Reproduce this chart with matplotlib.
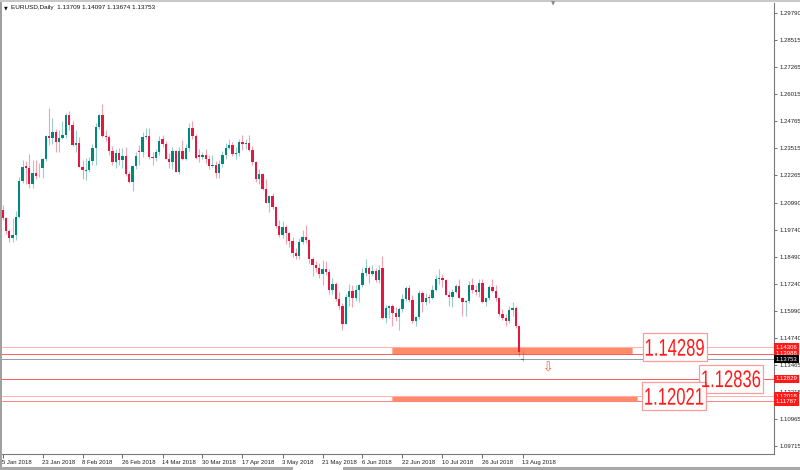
import matplotlib.pyplot as plt
from matplotlib.transforms import blended_transform_factory, Affine2D, IdentityTransform
from matplotlib.patches import Rectangle, PathPatch
from matplotlib.textpath import TextPath
from matplotlib.font_manager import FontProperties

symbol = 'EURUSD,Daily'
last_ohlc = '1.13709 1.14097 1.13674 1.13753'

# daily bars 5 Jan 2018 .. 13 Aug 2018
opens = [1.2067, 1.2030, 1.1967, 1.1937, 1.1950, 1.2035, 1.2198, 1.2267, 1.2262, 1.2187,
         1.2237, 1.2262, 1.2258, 1.2300, 1.2410, 1.2398, 1.2427, 1.2382, 1.2399, 1.2414,
         1.2507, 1.2459, 1.2368, 1.2376, 1.2265, 1.2247, 1.2250, 1.2292, 1.2352, 1.2448,
         1.2505, 1.2409, 1.2405, 1.2337, 1.2287, 1.2331, 1.2295, 1.2317, 1.2233, 1.2193,
         1.2269, 1.2340, 1.2335, 1.2404, 1.2410, 1.2310, 1.2306, 1.2336, 1.2395, 1.2369,
         1.2303, 1.2287, 1.2337, 1.2240, 1.2340, 1.2302, 1.2352, 1.2446, 1.2406, 1.2318,
         1.2313, 1.2322, 1.2302, 1.2270, 1.2276, 1.2239, 1.2280, 1.2320, 1.2354, 1.2368,
         1.2324, 1.2331, 1.2380, 1.2372, 1.2375, 1.2344, 1.2288, 1.2211, 1.2232, 1.2165,
         1.2100, 1.2130, 1.2079, 1.1991, 1.1950, 1.1988, 1.1960, 1.1923, 1.1866, 1.1851,
         1.1916, 1.1941, 1.1925, 1.1837, 1.1810, 1.1795, 1.1769, 1.1791, 1.1779, 1.1696,
         1.1722, 1.1652, 1.1623, 1.1538, 1.1664, 1.1692, 1.1658, 1.1695, 1.1716, 1.1775,
         1.1798, 1.1769, 1.1782, 1.1740, 1.1795, 1.1567, 1.1610, 1.1623, 1.1587, 1.1570,
         1.1606, 1.1655, 1.1702, 1.1648, 1.1553, 1.1568, 1.1683, 1.1640, 1.1660, 1.1657,
         1.1693, 1.1748, 1.1751, 1.1742, 1.1672, 1.1664, 1.1685, 1.1712, 1.1660, 1.1641,
         1.1642, 1.1720, 1.1693, 1.1685, 1.1726, 1.1640, 1.1657, 1.1707, 1.1690, 1.1659,
         1.1583, 1.1567, 1.1553, 1.1601, 1.1611, 1.1526, 1.13709]
highs = [1.2090, 1.2034, 1.1976, 1.2027, 1.2059, 1.2219, 1.2296, 1.2292, 1.2323, 1.2297,
         1.2296, 1.2284, 1.2306, 1.2415, 1.2537, 1.2493, 1.2440, 1.2434, 1.2477, 1.2516,
         1.2522, 1.2479, 1.2436, 1.2405, 1.2297, 1.2305, 1.2313, 1.2370, 1.2470, 1.2509,
         1.2555, 1.2435, 1.2415, 1.2361, 1.2349, 1.2352, 1.2353, 1.2356, 1.2246, 1.2273,
         1.2336, 1.2368, 1.2425, 1.2446, 1.2446, 1.2336, 1.2347, 1.2408, 1.2413, 1.2384,
         1.2330, 1.2355, 1.2345, 1.2355, 1.2388, 1.2369, 1.2468, 1.2476, 1.2416, 1.2347,
         1.2336, 1.2347, 1.2320, 1.2318, 1.2294, 1.2295, 1.2337, 1.2377, 1.2396, 1.2380,
         1.2355, 1.2396, 1.2414, 1.2394, 1.2414, 1.2360, 1.2294, 1.2254, 1.2237, 1.2207,
         1.2134, 1.2142, 1.2083, 1.2018, 1.2015, 1.1995, 1.1965, 1.1940, 1.1890, 1.1935,
         1.1972, 1.1996, 1.1932, 1.1849, 1.1830, 1.1818, 1.1836, 1.1830, 1.1793, 1.1750,
         1.1731, 1.1686, 1.1637, 1.1675, 1.1725, 1.1716, 1.1720, 1.1724, 1.1796, 1.1840,
         1.1806, 1.1810, 1.1795, 1.1810, 1.1852, 1.1626, 1.1625, 1.1630, 1.1617, 1.1618,
         1.1675, 1.1715, 1.1717, 1.1673, 1.1575, 1.1696, 1.1690, 1.1681, 1.1675, 1.1720,
         1.1765, 1.1791, 1.1768, 1.1747, 1.1692, 1.1698, 1.1721, 1.1745, 1.1664, 1.1650,
         1.1737, 1.1750, 1.1716, 1.1745, 1.1748, 1.1658, 1.1720, 1.1746, 1.1716, 1.1663,
         1.1605, 1.1584, 1.1620, 1.1641, 1.1619, 1.1530, 1.14097]
lows = [1.2020, 1.1954, 1.1916, 1.1915, 1.1926, 1.2030, 1.2192, 1.2185, 1.2166, 1.2167,
        1.2208, 1.2216, 1.2214, 1.2292, 1.2365, 1.2373, 1.2336, 1.2335, 1.2392, 1.2401,
        1.2436, 1.2360, 1.2335, 1.2264, 1.2207, 1.2206, 1.2243, 1.2274, 1.2275, 1.2441,
        1.2404, 1.2385, 1.2319, 1.2274, 1.2260, 1.2274, 1.2261, 1.2225, 1.2189, 1.2155,
        1.2254, 1.2274, 1.2310, 1.2396, 1.2300, 1.2272, 1.2294, 1.2322, 1.2359, 1.2300,
        1.2259, 1.2255, 1.2240, 1.2232, 1.2295, 1.2295, 1.2340, 1.2396, 1.2300, 1.2289,
        1.2300, 1.2284, 1.2255, 1.2265, 1.2215, 1.2214, 1.2263, 1.2303, 1.2347, 1.2317,
        1.2300, 1.2316, 1.2345, 1.2347, 1.2337, 1.2274, 1.2197, 1.2184, 1.2160, 1.2096,
        1.2055, 1.2070, 1.1982, 1.1940, 1.1938, 1.1910, 1.1896, 1.1850, 1.1838, 1.1840,
        1.1907, 1.1911, 1.1821, 1.1762, 1.1776, 1.1750, 1.1716, 1.1764, 1.1676, 1.1677,
        1.1645, 1.1605, 1.1510, 1.1537, 1.1620, 1.1618, 1.1645, 1.1640, 1.1708, 1.1758,
        1.1726, 1.1760, 1.1731, 1.1728, 1.1562, 1.1541, 1.1564, 1.1530, 1.1550, 1.1508,
        1.1591, 1.1642, 1.1640, 1.1541, 1.1527, 1.1560, 1.1591, 1.1624, 1.1637, 1.1653,
        1.1688, 1.1721, 1.1708, 1.1670, 1.1620, 1.1615, 1.1683, 1.1658, 1.1575, 1.1575,
        1.1636, 1.1680, 1.1672, 1.1664, 1.1636, 1.1620, 1.1650, 1.1684, 1.1645, 1.1575,
        1.1554, 1.1529, 1.1540, 1.1574, 1.1521, 1.1389, 1.13674]
closes = [1.2029, 1.1967, 1.1937, 1.1950, 1.2035, 1.2198, 1.2264, 1.2262, 1.2187, 1.2237,
          1.2224, 1.2258, 1.2300, 1.2408, 1.2398, 1.2427, 1.2382, 1.2399, 1.2414, 1.2507,
          1.2459, 1.2368, 1.2376, 1.2265, 1.2250, 1.2250, 1.2292, 1.2352, 1.2448, 1.2505,
          1.2409, 1.2405, 1.2337, 1.2287, 1.2331, 1.2295, 1.2317, 1.2233, 1.2193, 1.2269,
          1.2317, 1.2335, 1.2404, 1.2410, 1.2310, 1.2306, 1.2336, 1.2387, 1.2369, 1.2303,
          1.2287, 1.2337, 1.2240, 1.2340, 1.2302, 1.2352, 1.2446, 1.2406, 1.2307, 1.2313,
          1.2322, 1.2302, 1.2270, 1.2276, 1.2239, 1.2280, 1.2320, 1.2354, 1.2368, 1.2324,
          1.2331, 1.2380, 1.2372, 1.2375, 1.2344, 1.2288, 1.2211, 1.2232, 1.2165, 1.2100,
          1.2130, 1.2079, 1.1991, 1.1950, 1.1988, 1.1960, 1.1923, 1.1866, 1.1851, 1.1916,
          1.1941, 1.1925, 1.1837, 1.1810, 1.1795, 1.1769, 1.1791, 1.1779, 1.1696, 1.1722,
          1.1652, 1.1623, 1.1538, 1.1664, 1.1692, 1.1658, 1.1695, 1.1716, 1.1775, 1.1798,
          1.1769, 1.1782, 1.1740, 1.1788, 1.1567, 1.1610, 1.1623, 1.1587, 1.1570, 1.1606,
          1.1655, 1.1702, 1.1648, 1.1553, 1.1568, 1.1683, 1.1640, 1.1656, 1.1657, 1.1693,
          1.1748, 1.1751, 1.1742, 1.1672, 1.1664, 1.1685, 1.1712, 1.1660, 1.1641, 1.1642,
          1.1720, 1.1693, 1.1685, 1.1726, 1.1640, 1.1657, 1.1707, 1.1690, 1.1659, 1.1583,
          1.1567, 1.1553, 1.1601, 1.1611, 1.1526, 1.1410, 1.13753]

date_labels = ['5 Jan 2018', '23 Jan 2018', '8 Feb 2018', '26 Feb 2018', '14 Mar 2018',
               '30 Mar 2018', '17 Apr 2018', '3 May 2018', '21 May 2018', '6 Jun 2018',
               '22 Jun 2018', '10 Jul 2018', '26 Jul 2018', '13 Aug 2018']
bars_per_label = 12

price_ticks = [1.29790, 1.28515, 1.27265, 1.26015, 1.24765, 1.23515, 1.22265, 1.20990,
               1.19740, 1.18490, 1.17240, 1.15990, 1.14740, 1.13465, 1.12215, 1.10965, 1.09715]

upper_zone = [1.14306, 1.13988]
lower_zone = [1.12018, 1.11787]
mid_level = 1.12829
current_price = 1.13753
callout_prices = [1.14289, 1.12836, 1.12021]

bull = '#00877e'
bear = '#e3173f'
small_font = ['Liberation Sans', 'DejaVu Sans']

fig = plt.figure(figsize=(8, 4.7), dpi=100)
fig.patch.set_facecolor('white')
ax = fig.add_axes([2/800, 16/470, 772/800, 451/470])
ax.set_xlim(-0.15, 231.45)
ax.set_ylim(1.09353, 1.30242)

# candles
for i in range(len(closes)):
    o, h, l, c = opens[i], highs[i], lows[i], closes[i]
    col = bull if c >= o else bear
    ax.vlines(i, l, h, color=col, alpha=0.4, lw=0.8, zorder=2)
    ax.bar(i, max(abs(c - o), 0.0004), bottom=min(o, c), width=0.62,
           color=col, lw=0, zorder=3)

# zones and levels
ax.add_patch(Rectangle((116.9, upper_zone[1]), 72.0, upper_zone[0] - upper_zone[1],
                       fc='#ff8a66', ec='#ffb59e', lw=0.8, zorder=1))
ax.add_patch(Rectangle((116.9, lower_zone[1]), 73.5, lower_zone[0] - lower_zone[1],
                       fc='#ff8a66', ec='#ffb59e', lw=0.8, zorder=1))
ax.axhline(upper_zone[0], color='#ffb0b0', lw=0.7, zorder=1)
ax.axhline(upper_zone[1], color='#ff5a5a', lw=0.7, zorder=1)
ax.axhline(current_price, color='#8e9ca8', lw=0.7, zorder=1)
ax.axhline(mid_level, color='#ff5a5a', lw=0.7, zorder=1)
ax.axhline(lower_zone[0], color='#ffb0b0', lw=0.7, zorder=1)
ax.axhline(lower_zone[1], color='#ff8080', lw=0.7, zorder=1)
ax.text(163.7, 1.1334, '\u21e9', fontsize=9, family='DejaVu Sans', color='#ff5a36',
        ha='center', va='center', zorder=6)


# big narrow price callouts (tall condensed digits, like the terminal's labels)
def callout(xd, price):
    s = '%.5f' % price
    tp = TextPath((0, 0), s, size=1, prop=FontProperties(family='Liberation Sans'))
    ext = tp.get_extents()
    cx, cy = ax.transData.transform((xd, price))
    tr = (Affine2D().translate(-ext.x0 - ext.width / 2, -ext.y0 - ext.height / 2)
          .scale(58 / ext.width, 17 / ext.height).translate(cx, cy))
    fig.add_artist(Rectangle((cx - 32, cy - 14), 64, 28, transform=IdentityTransform(),
                             fc='white', ec='#ff9a9a', lw=0.9, zorder=5))
    fig.add_artist(PathPatch(tp, transform=tr, fc='#ff1a1a', lw=0, zorder=6))


callout(201.7, callout_prices[0])
callout(218.6, callout_prices[1])
callout(201.5, callout_prices[2])

# axes styling
for s in ['top', 'left']:
    ax.spines[s].set_visible(False)
ax.spines['right'].set_color('#7a7a7a')
ax.spines['bottom'].set_color('#7a7a7a')
ax.yaxis.tick_right()
ax.set_yticks(price_ticks)
ax.set_yticklabels(['%.5f' % p for p in price_ticks], family=small_font)
ax.tick_params(axis='y', length=2.5, width=0.6, pad=1.2, labelsize=4.3,
               color='#555555', labelcolor='#222222')
ax.set_xticks(range(0, len(closes), bars_per_label))
ax.set_xticklabels(date_labels, family=small_font, ha='left')
ax.tick_params(axis='x', length=3, width=0.6, pad=1.0, labelsize=4.3,
               color='#555555', labelcolor='#222222')

# right-axis price tags
tr = blended_transform_factory(ax.transAxes, ax.transData)
tags = [(upper_zone[0], '#ff1a1a'), (upper_zone[1], '#ff1a1a'), (current_price, '#000000'),
        (mid_level, '#ff1a1a'), (lower_zone[0], '#ff1a1a'), (lower_zone[1], '#ff1a1a')]
for p, fc in tags:
    ax.text(1.0 + 1.5/772, p, '%.5f' % p, transform=tr, fontsize=4.3, family=small_font,
            color='white', ha='left', va='center', clip_on=False, zorder=8,
            bbox=dict(boxstyle='square,pad=0.3', fc=fc, ec=fc, lw=0))

# header and window chrome
fig.text(11/800, 1 - 8/470, symbol + '  ' + last_ohlc, fontsize=4.6, family=small_font,
         color='#111111', va='center')
fig.text(4/800, 1 - 8/470, '\u25bc', fontsize=3.5, family='DejaVu Sans', color='#111111',
         va='center')
fig.text(553/800, 1 - 4/470, '\u25bc', fontsize=4, family='DejaVu Sans', color='#8a8a8a',
         ha='center', va='center')
fig.add_artist(Rectangle((0, 0), 2/800, 1, transform=fig.transFigure, fc='#a0a0a0', lw=0))
fig.add_artist(Rectangle((0, 1 - 2/470), 1, 2/470, transform=fig.transFigure,
                         fc='#c8c8c8', lw=0))
fig.add_artist(Rectangle((0, 0), 1, 3/470, transform=fig.transFigure, fc='#a8a8a8', lw=0))
fig.add_artist(Rectangle((293/800, 0), 50/800, 3/470, transform=fig.transFigure,
                         fc='white', lw=0))

fig.savefig('out.png', dpi=100)
